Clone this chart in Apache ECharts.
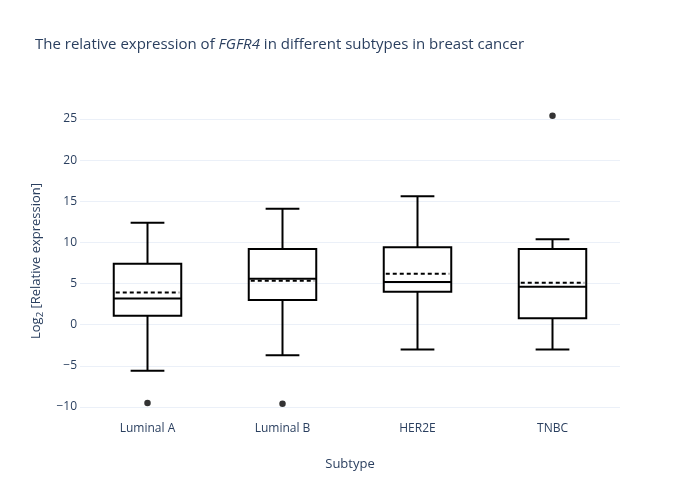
<!DOCTYPE html>
<html>
<head>
<meta charset="utf-8">
<script src="https://cdn.jsdelivr.net/npm/echarts@6/dist/echarts.min.js"></script>
<style>html,body{margin:0;padding:0;background:#fff}#c{width:700px;height:500px}</style>
</head>
<body>
<div id="c"></div>
<script>
var categories = ['Luminal A', 'Luminal B', 'HER2E', 'TNBC'];
var lowerWhisker = [-5.6, -3.7, -3.0, -3.0];
var q1 = [1.1, 3.0, 4.0, 0.8];
var median = [3.2, 5.6, 5.2, 4.6];
var q3 = [7.4, 9.2, 9.4, 9.2];
var upperWhisker = [12.4, 14.1, 15.6, 10.4];
var means = [3.9, 5.35, 6.2, 5.1];
var outlierCat = [0, 1, 3];
var outlierVal = [-9.5, -9.6, 25.4];
var yTicks = [-10, -5, 0, 5, 10, 15, 20, 25];

var TXT = '#2a3f5f';
var FONT = '"Open Sans", sans-serif';

var boxData = categories.map(function (c, i) {
  return [i, lowerWhisker[i], q1[i], median[i], q3[i], upperWhisker[i], means[i]];
});
var outlierData = outlierCat.map(function (c, i) { return [c, outlierVal[i]]; });

function renderBox(params, api) {
  var idx = api.value(0);
  var band = api.size([1, 0])[0];
  var bw = band * 0.5, cw = band * 0.25;
  var pMin = api.coord([idx, api.value(1)]);
  var pQ1 = api.coord([idx, api.value(2)]);
  var pMed = api.coord([idx, api.value(3)]);
  var pQ3 = api.coord([idx, api.value(4)]);
  var pMax = api.coord([idx, api.value(5)]);
  var pMean = api.coord([idx, api.value(6)]);
  var x = pMed[0];
  var st = { stroke: '#000', lineWidth: 2, fill: null };
  var dash = { stroke: '#000', lineWidth: 2, lineDash: [4, 3], fill: null };
  return {
    type: 'group',
    children: [
      { type: 'rect', shape: { x: x - bw / 2, y: pQ3[1], width: bw, height: pQ1[1] - pQ3[1] }, style: { stroke: '#000', lineWidth: 2, fill: 'rgba(0,0,0,0)' } },
      { type: 'line', shape: { x1: x - bw / 2, y1: pMed[1], x2: x + bw / 2, y2: pMed[1] }, style: st },
      { type: 'line', shape: { x1: x - bw / 2 + 2, y1: pMean[1], x2: x + bw / 2 - 2, y2: pMean[1] }, style: dash },
      { type: 'line', shape: { x1: x, y1: pQ3[1], x2: x, y2: pMax[1] }, style: st },
      { type: 'line', shape: { x1: x, y1: pQ1[1], x2: x, y2: pMin[1] }, style: st },
      { type: 'line', shape: { x1: x - cw / 2, y1: pMax[1], x2: x + cw / 2, y2: pMax[1] }, style: st },
      { type: 'line', shape: { x1: x - cw / 2, y1: pMin[1], x2: x + cw / 2, y2: pMin[1] }, style: st }
    ]
  };
}

var chart = echarts.init(document.getElementById('c'), null, { renderer: 'canvas' });
chart.setOption({
  backgroundColor: '#fff',
  animation: false,
  title: {
    text: 'The relative expression of {i|FGFR4} in different subtypes in breast cancer',
    left: 30,
    top: 32,
    textStyle: {
      fontFamily: FONT, fontSize: 15, color: TXT, fontWeight: 'normal',
      rich: { i: { fontFamily: FONT, fontSize: 15, color: TXT, fontStyle: 'italic' } }
    }
  },
  grid: { left: 80, right: 80, top: 119, bottom: 93, containLabel: false },
  xAxis: {
    type: 'category',
    data: categories,
    boundaryGap: true,
    axisLine: { show: false },
    axisTick: { show: false },
    axisLabel: { color: TXT, fontFamily: FONT, fontSize: 12, margin: 16 },
    splitLine: { show: false },
    name: 'Subtype',
    nameLocation: 'middle',
    nameGap: 51,
    nameTextStyle: { color: TXT, fontFamily: FONT, fontSize: 13 }
  },
  yAxis: {
    type: 'value',
    min: -10,
    max: 25,
    interval: 5,
    axisLine: { show: false },
    axisTick: { show: false },
    axisLabel: {
      color: TXT, fontFamily: FONT, fontSize: 12, margin: 3,
      formatter: function (v) { return v < 0 ? '\u2212' + Math.abs(v) : String(v); }
    },
    splitLine: { show: true, lineStyle: { color: '#ebf0f8', width: 1 } },
    name: 'Log{sub|2} [Relative expression]',
    nameLocation: 'middle',
    nameRotate: 90,
    nameGap: 22,
    nameTextStyle: {
      color: TXT, fontFamily: FONT, fontSize: 13, lineHeight: 18, verticalAlign: 'middle',
      padding: [0, 0, 0, 4],
      rich: {
        sub: { color: TXT, fontFamily: FONT, fontSize: 9.5, lineHeight: 18, verticalAlign: 'bottom' }
      }
    }
  },
  series: [
    {
      type: 'custom',
      renderItem: renderBox,
      data: boxData,
      encode: { x: 0, y: [1, 2, 3, 4, 5, 6] },
      clip: false,
      z: 3
    },
    {
      type: 'scatter',
      data: outlierData,
      symbol: 'circle',
      symbolSize: 6.5,
      itemStyle: { color: '#000' },
      clip: false,
      z: 4
    }
  ]
});
</script>
</body>
</html>
